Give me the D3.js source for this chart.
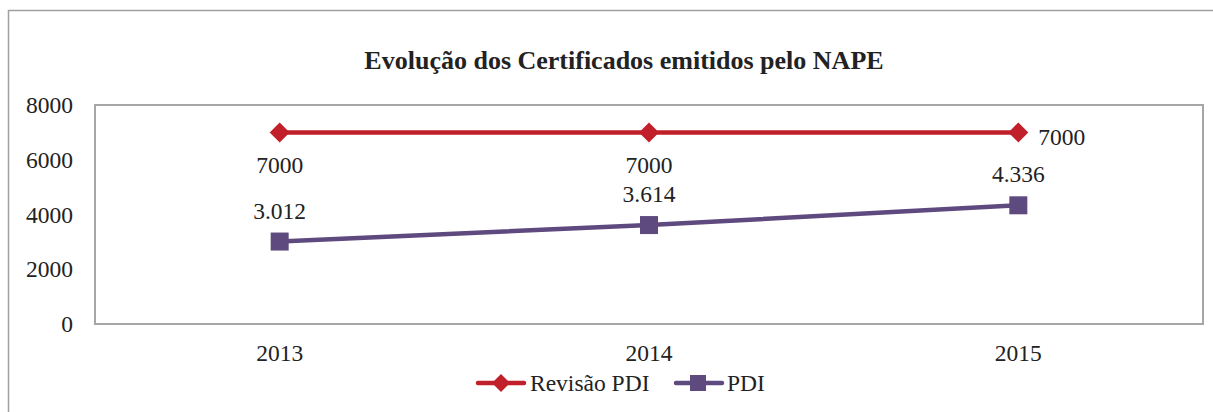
<!DOCTYPE html>
<html><head><meta charset="utf-8">
<script src="https://cdn.jsdelivr.net/npm/d3@7"></script>
<style>body{margin:0;background:#fff}svg{display:block}</style>
</head><body>
<svg id="c" width="1213" height="412"></svg>
<script>
const categories = ["2013","2014","2015"];
const revisaoPDI = [7000,7000,7000];
const pdi = [3012,3614,4336];
const pdiLabels = ["3.012","3.614","4.336"];
const revisaoLabels = ["7000","7000","7000"];
const yTicks = [0,2000,4000,6000,8000];
const title = "Evolução dos Certificados emitidos pelo NAPE";

const FONT = "Liberation Serif";
const FS = 23.5;
const svg = d3.select("#c");
const red = "#C1202A", purple = "#5E4A7E", gridGray = "#a6a6a6";
const m = {l:95, r:1203, t:105, b:324};

svg.append("rect").attr("x",8.5).attr("y",10.5).attr("width",1230).attr("height",420)
  .attr("fill","none").attr("stroke","#a0a0a0").attr("stroke-width",1.5);

const x = d3.scaleBand().domain(categories).range([m.l,m.r]);
const y = d3.scaleLinear().domain([0,8000]).range([m.b,m.t]);

svg.append("rect").attr("x",m.l).attr("y",m.t).attr("width",m.r-m.l).attr("height",m.b-m.t)
  .attr("fill","none").attr("stroke",gridGray).attr("stroke-width",2);

svg.append("text").attr("x",624).attr("y",69).attr("text-anchor","middle")
  .attr("font-weight","bold").attr("font-size",26).text(title);

const yAxis = svg.append("g").attr("transform",`translate(${m.l},0)`)
  .call(d3.axisLeft(y).tickValues(yTicks).tickSize(0).tickPadding(22).tickFormat(d3.format("d")));
yAxis.select(".domain").remove();
yAxis.selectAll("text").attr("font-size",FS);

const xAxis = svg.append("g").attr("transform",`translate(0,${m.b})`)
  .call(d3.axisBottom(x).tickSize(0).tickPadding(20));
xAxis.select(".domain").remove();
xAxis.selectAll("text").attr("font-size",FS);

const cx = d => x(d)+x.bandwidth()/2;
const line = d3.line();

svg.append("path").attr("d",line(categories.map((c,i)=>[cx(c),y(revisaoPDI[i])])))
  .attr("fill","none").attr("stroke",red).attr("stroke-width",4.5);
svg.append("path").attr("d",line(categories.map((c,i)=>[cx(c),y(pdi[i])])))
  .attr("fill","none").attr("stroke",purple).attr("stroke-width",4.5);

categories.forEach((c,i)=>{
  svg.append("path").attr("d","M0,-10L10,0L0,10L-10,0Z")
    .attr("transform",`translate(${cx(c)},${y(revisaoPDI[i])})`).attr("fill",red);
  svg.append("rect").attr("x",cx(c)-9).attr("y",y(pdi[i])-9).attr("width",18).attr("height",18).attr("fill",purple);
});

categories.forEach((c,i)=>{
  const rl = svg.append("text").attr("font-size",FS).text(revisaoLabels[i]);
  if (i<2) rl.attr("x",cx(c)).attr("y",y(revisaoPDI[i])+41).attr("text-anchor","middle");
  else rl.attr("x",cx(c)+20).attr("y",y(revisaoPDI[i])+12.5).attr("text-anchor","start");
  svg.append("text").attr("font-size",FS).attr("x",cx(c)).attr("y",y(pdi[i])-23)
    .attr("text-anchor","middle").text(pdiLabels[i]);
});

const ly = 383;
const lg = svg.append("g");
lg.append("line").attr("x1",478).attr("x2",524).attr("y1",ly).attr("y2",ly).attr("stroke",red).attr("stroke-width",4.5).attr("stroke-linecap","round");
lg.append("path").attr("d","M0,-9L9,0L0,9L-9,0Z").attr("transform",`translate(501,${ly})`).attr("fill",red);
lg.append("text").attr("x",530).attr("y",ly+8).attr("font-size",FS).text("Revisão PDI");
lg.append("line").attr("x1",676).attr("x2",722).attr("y1",ly).attr("y2",ly).attr("stroke",purple).attr("stroke-width",4.5).attr("stroke-linecap","round");
lg.append("rect").attr("x",690).attr("y",ly-8).attr("width",16).attr("height",16).attr("fill",purple);
lg.append("text").attr("x",727).attr("y",ly+8).attr("font-size",FS).text("PDI");

svg.selectAll("text").attr("font-family",FONT).style("font-family",FONT).attr("fill","#222");
</script>
</body></html>
